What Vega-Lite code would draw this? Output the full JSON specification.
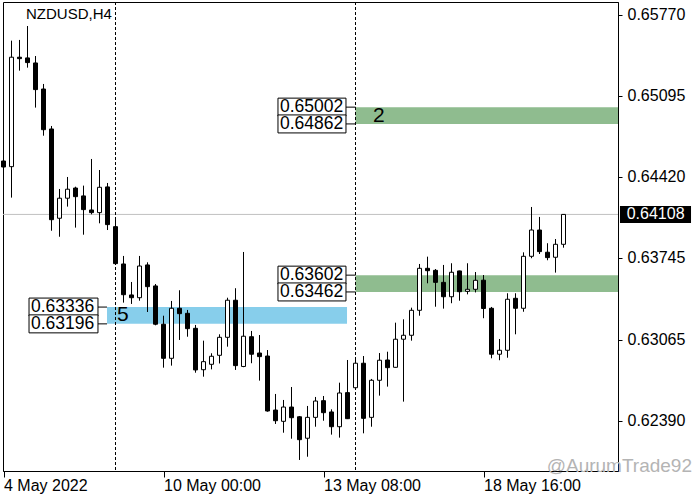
{
  "$schema": "https://vega.github.io/schema/vega-lite/v6.json",
  "autosize": "none",
  "width": 615,
  "height": 469,
  "padding": {"left": 3, "top": 2, "right": 82, "bottom": 29},
  "background": "white",
  "config": {
    "view": {"stroke": "black", "strokeWidth": 1},
    "font": "Liberation Sans"
  },
  "datasets": {
    "candles": [
      {"i":0,"o":0.64553,"h":0.64578,"l":0.64212,"c":0.64503},
      {"i":1,"o":0.64506,"h":0.65556,"l":0.64248,"c":0.65418},
      {"i":2,"o":0.65418,"h":0.65562,"l":0.65306,"c":0.65406},
      {"i":3,"o":0.65412,"h":0.65678,"l":0.65331,"c":0.65373},
      {"i":4,"o":0.65370,"h":0.65428,"l":0.64998,"c":0.65148},
      {"i":5,"o":0.65153,"h":0.65195,"l":0.64764,"c":0.64814},
      {"i":6,"o":0.64820,"h":0.64845,"l":0.63972,"c":0.64064},
      {"i":7,"o":0.64076,"h":0.64320,"l":0.63922,"c":0.64243},
      {"i":8,"o":0.64243,"h":0.64420,"l":0.64173,"c":0.64318},
      {"i":9,"o":0.64328,"h":0.64339,"l":0.63998,"c":0.64256},
      {"i":10,"o":0.64262,"h":0.64348,"l":0.63939,"c":0.64148},
      {"i":11,"o":0.64145,"h":0.64570,"l":0.64109,"c":0.64123},
      {"i":12,"o":0.64123,"h":0.64478,"l":0.64034,"c":0.64334},
      {"i":13,"o":0.64337,"h":0.64370,"l":0.63978,"c":0.64023},
      {"i":14,"o":0.64006,"h":0.64076,"l":0.63687,"c":0.63698},
      {"i":15,"o":0.63695,"h":0.63762,"l":0.63373,"c":0.63439},
      {"i":16,"o":0.63437,"h":0.63545,"l":0.63362,"c":0.63414},
      {"i":17,"o":0.63414,"h":0.63762,"l":0.63389,"c":0.63678},
      {"i":18,"o":0.63687,"h":0.63709,"l":0.63295,"c":0.63506},
      {"i":19,"o":0.63512,"h":0.63528,"l":0.63184,"c":0.63193},
      {"i":20,"o":0.63193,"h":0.63264,"l":0.62831,"c":0.62909},
      {"i":21,"o":0.62909,"h":0.63387,"l":0.62848,"c":0.63326},
      {"i":22,"o":0.63326,"h":0.63476,"l":0.63062,"c":0.63281},
      {"i":23,"o":0.63284,"h":0.63312,"l":0.63089,"c":0.63156},
      {"i":24,"o":0.63159,"h":0.63187,"l":0.62789,"c":0.62812},
      {"i":25,"o":0.62814,"h":0.63056,"l":0.62756,"c":0.62881},
      {"i":26,"o":0.62859,"h":0.62951,"l":0.62817,"c":0.62926},
      {"i":27,"o":0.62934,"h":0.63109,"l":0.62866,"c":0.63084},
      {"i":28,"o":0.63084,"h":0.63414,"l":0.63006,"c":0.63393},
      {"i":29,"o":0.63393,"h":0.63493,"l":0.62812,"c":0.62848},
      {"i":30,"o":0.62841,"h":0.63795,"l":0.62835,"c":0.63093},
      {"i":31,"o":0.63089,"h":0.63137,"l":0.62868,"c":0.62943},
      {"i":32,"o":0.62953,"h":0.63103,"l":0.62723,"c":0.62923},
      {"i":33,"o":0.62928,"h":0.62978,"l":0.62464,"c":0.62470},
      {"i":34,"o":0.62478,"h":0.62612,"l":0.62362,"c":0.62389},
      {"i":35,"o":0.62384,"h":0.62562,"l":0.62289,"c":0.62503},
      {"i":36,"o":0.62503,"h":0.62670,"l":0.62239,"c":0.62414},
      {"i":37,"o":0.62422,"h":0.62428,"l":0.62062,"c":0.62231},
      {"i":38,"o":0.62243,"h":0.62512,"l":0.62089,"c":0.62417},
      {"i":39,"o":0.62417,"h":0.62587,"l":0.62339,"c":0.62553},
      {"i":40,"o":0.62556,"h":0.62595,"l":0.62389,"c":0.62456},
      {"i":41,"o":0.62462,"h":0.62484,"l":0.62273,"c":0.62339},
      {"i":42,"o":0.62339,"h":0.62706,"l":0.62248,"c":0.62620},
      {"i":43,"o":0.62623,"h":0.62895,"l":0.62403,"c":0.62406},
      {"i":44,"o":0.62664,"h":0.62920,"l":0.62662,"c":0.62868},
      {"i":45,"o":0.62868,"h":0.62928,"l":0.62284,"c":0.62409},
      {"i":46,"o":0.62417,"h":0.62737,"l":0.62339,"c":0.62726},
      {"i":47,"o":0.62726,"h":0.62953,"l":0.62598,"c":0.62893},
      {"i":48,"o":0.62895,"h":0.62964,"l":0.62673,"c":0.62831},
      {"i":49,"o":0.62834,"h":0.63206,"l":0.62832,"c":0.63068},
      {"i":50,"o":0.63068,"h":0.63234,"l":0.62548,"c":0.63101},
      {"i":51,"o":0.63101,"h":0.63331,"l":0.63056,"c":0.63309},
      {"i":52,"o":0.63309,"h":0.63695,"l":0.63264,"c":0.63659},
      {"i":53,"o":0.63659,"h":0.63756,"l":0.63534,"c":0.63639},
      {"i":54,"o":0.63642,"h":0.63653,"l":0.63339,"c":0.63542},
      {"i":55,"o":0.63542,"h":0.63687,"l":0.63323,"c":0.63422},
      {"i":56,"o":0.63422,"h":0.63701,"l":0.63368,"c":0.63626},
      {"i":57,"o":0.63637,"h":0.63639,"l":0.63389,"c":0.63464},
      {"i":58,"o":0.63467,"h":0.63701,"l":0.63442,"c":0.63484},
      {"i":59,"o":0.63484,"h":0.63628,"l":0.63458,"c":0.63559},
      {"i":60,"o":0.63560,"h":0.63603,"l":0.63243,"c":0.63324},
      {"i":61,"o":0.63326,"h":0.63337,"l":0.62909,"c":0.62943},
      {"i":62,"o":0.62943,"h":0.63070,"l":0.62893,"c":0.62976},
      {"i":63,"o":0.62976,"h":0.63451,"l":0.62914,"c":0.63401},
      {"i":64,"o":0.63409,"h":0.63451,"l":0.63109,"c":0.63326},
      {"i":65,"o":0.63326,"h":0.63792,"l":0.63297,"c":0.63759},
      {"i":66,"o":0.63759,"h":0.64170,"l":0.63743,"c":0.63978},
      {"i":67,"o":0.63978,"h":0.64087,"l":0.63778,"c":0.63798},
      {"i":68,"o":0.63793,"h":0.63868,"l":0.63726,"c":0.63748},
      {"i":69,"o":0.63751,"h":0.63903,"l":0.63623,"c":0.63859},
      {"i":70,"o":0.63859,"h":0.64108,"l":0.63831,"c":0.64108}
    ],
    "zones": [
      {"x1":44,"x2":76.8125,"hi":0.65002,"lo":0.64862,"kind":"green"},
      {"x1":44,"x2":76.8125,"hi":0.63602,"lo":0.63462,"kind":"green"},
      {"x1":12.94,"x2":42.94,"hi":0.63336,"lo":0.63196,"kind":"blue"}
    ],
    "levels": [
      {"level":0.65002,"x1":34.31,"x2":42.81,"xz":44},
      {"level":0.64862,"x1":34.31,"x2":42.81,"xz":44},
      {"level":0.63602,"x1":34.31,"x2":42.81,"xz":44},
      {"level":0.63462,"x1":34.31,"x2":42.81,"xz":44},
      {"level":0.63336,"x1":3.19,"x2":11.81,"xz":12.94},
      {"level":0.63196,"x1":3.19,"x2":11.81,"xz":12.94}
    ],
    "zonelabels": [
      {"x":46.19,"y":0.64932,"label":"2"},
      {"x":14.19,"y":0.63268,"label":"5"}
    ],
    "seps": [{"i":14},{"i":44}],
    "last": [{"price":0.64108,"x1":77.06,"x2":85.94,"tx":77.9}],
    "texts": [
      {"x":2.81,"y":0.65778,"label":"NZDUSD,H4"}
    ],
    "marks": [
      {"x":86.06,"y":0.62015,"label":"@AurumTrade92"}
    ]
  },
  "layer": [
    {
      "data": {"name": "zones"},
      "mark": {"type": "rect"},
      "encoding": {
        "x": {
          "field": "x1", "type": "quantitative", "title": null,
          "scale": {"domain": [-0.0625, 76.8125], "nice": false, "zero": false, "padding": 0},
          "axis": {
            "title": null,
            "values": [0, 20, 40, 60],
            "labelExpr": "datum.value == 0 ? '4 May 2022' : datum.value == 20 ? '10 May 00:00' : datum.value == 40 ? '13 May 08:00' : '18 May 16:00'",
            "labelAlign": "left",
            "labelBaseline": "top",
            "labelPadding": 0,
            "labelFont": "Liberation Sans",
            "labelFontSize": 16,
            "labelColor": "black",
            "labelFlush": false,
            "labelOverlap": false,
            "tickSize": 6,
            "tickColor": "black",
            "domainColor": "black",
            "grid": false
          }
        },
        "x2": {"field": "x2"},
        "y": {
          "field": "hi", "type": "quantitative", "title": null,
          "scale": {"domain": [0.6197, 0.65878], "nice": false, "zero": false, "padding": 0},
          "axis": {
            "orient": "right",
            "title": null,
            "values": [0.6577, 0.65095, 0.6442, 0.63745, 0.63065, 0.6239],
            "format": ".5f",
            "labelFont": "Liberation Sans",
            "labelFontSize": 16,
            "labelColor": "black",
            "labelPadding": 5,
            "labelFlush": false,
            "labelOverlap": false,
            "tickSize": 4,
            "tickColor": "black",
            "domainColor": "black",
            "grid": false
          }
        },
        "y2": {"field": "lo"},
        "fill": {"field": "kind", "type": "nominal", "scale": {"domain": ["green", "blue"], "range": ["#8fbc8f", "#87ceeb"]}, "legend": null}
      }
    },
    {
      "data": {"name": "last"},
      "mark": {"type": "rule", "color": "#c0c0c0", "strokeWidth": 1},
      "encoding": {
        "y": {"field": "price", "type": "quantitative", "title": null}
      }
    },
    {
      "data": {"name": "seps"},
      "mark": {"type": "rule", "color": "black", "strokeWidth": 1, "strokeDash": [3, 2]},
      "encoding": {
        "x": {"field": "i", "type": "quantitative", "title": null}
      }
    },
    {
      "data": {"name": "candles"},
      "mark": {"type": "rule", "color": "black", "strokeWidth": 1},
      "encoding": {
        "x": {"field": "i", "type": "quantitative", "title": null},
        "y": {"field": "l", "type": "quantitative", "title": null},
        "y2": {"field": "h"}
      }
    },
    {
      "data": {"name": "candles"},
      "mark": {"type": "bar", "width": 4, "stroke": "black", "strokeWidth": 1},
      "encoding": {
        "x": {"field": "i", "type": "quantitative", "title": null},
        "y": {"field": "o", "type": "quantitative", "title": null},
        "y2": {"field": "c"},
        "fill": {"condition": {"test": "datum.c >= datum.o", "value": "white"}, "value": "black"}
      }
    },
    {
      "data": {"name": "levels"},
      "mark": {"type": "rule", "color": "black", "strokeWidth": 1},
      "encoding": {
        "x": {"field": "x2", "type": "quantitative", "title": null},
        "x2": {"field": "xz"},
        "y": {"field": "level", "type": "quantitative", "title": null}
      }
    },
    {
      "data": {"name": "levels"},
      "mark": {"type": "bar", "height": 18, "fill": "white", "stroke": "black", "strokeWidth": 1},
      "encoding": {
        "x": {"field": "x1", "type": "quantitative", "title": null},
        "x2": {"field": "x2"},
        "y": {"field": "level", "type": "quantitative", "title": null}
      }
    },
    {
      "data": {"name": "levels"},
      "mark": {"type": "text", "align": "left", "baseline": "middle", "dx": 2, "font": "Liberation Sans", "fontSize": 17.5, "color": "black"},
      "encoding": {
        "x": {"field": "x1", "type": "quantitative", "title": null},
        "y": {"field": "level", "type": "quantitative", "title": null},
        "text": {"field": "level", "type": "quantitative", "format": ".5f"}
      }
    },
    {
      "data": {"name": "zonelabels"},
      "mark": {"type": "text", "align": "left", "baseline": "middle", "font": "Liberation Sans", "fontSize": 21, "color": "black"},
      "encoding": {
        "x": {"field": "x", "type": "quantitative", "title": null},
        "y": {"field": "y", "type": "quantitative", "title": null},
        "text": {"field": "label", "type": "nominal"}
      }
    },
    {
      "data": {"name": "texts"},
      "mark": {"type": "text", "align": "left", "baseline": "middle", "font": "Liberation Sans", "fontSize": 15, "color": "black"},
      "encoding": {
        "x": {"field": "x", "type": "quantitative", "title": null},
        "y": {"field": "y", "type": "quantitative", "title": null},
        "text": {"field": "label", "type": "nominal"}
      }
    },
    {
      "data": {"name": "last"},
      "mark": {"type": "bar", "height": 17, "fill": "black"},
      "encoding": {
        "x": {"field": "x1", "type": "quantitative", "title": null},
        "x2": {"field": "x2"},
        "y": {"field": "price", "type": "quantitative", "title": null}
      }
    },
    {
      "data": {"name": "last"},
      "mark": {"type": "text", "align": "left", "baseline": "middle", "font": "Liberation Sans", "fontSize": 16, "color": "white"},
      "encoding": {
        "x": {"field": "tx", "type": "quantitative", "title": null},
        "y": {"field": "price", "type": "quantitative", "title": null},
        "text": {"field": "price", "type": "quantitative", "format": ".5f"}
      }
    },
    {
      "data": {"name": "marks"},
      "mark": {"type": "text", "align": "right", "baseline": "middle", "font": "Liberation Sans", "fontSize": 19, "color": "#b4b4b4"},
      "encoding": {
        "x": {"field": "x", "type": "quantitative", "title": null},
        "y": {"field": "y", "type": "quantitative", "title": null},
        "text": {"field": "label", "type": "nominal"}
      }
    }
  ]
}
